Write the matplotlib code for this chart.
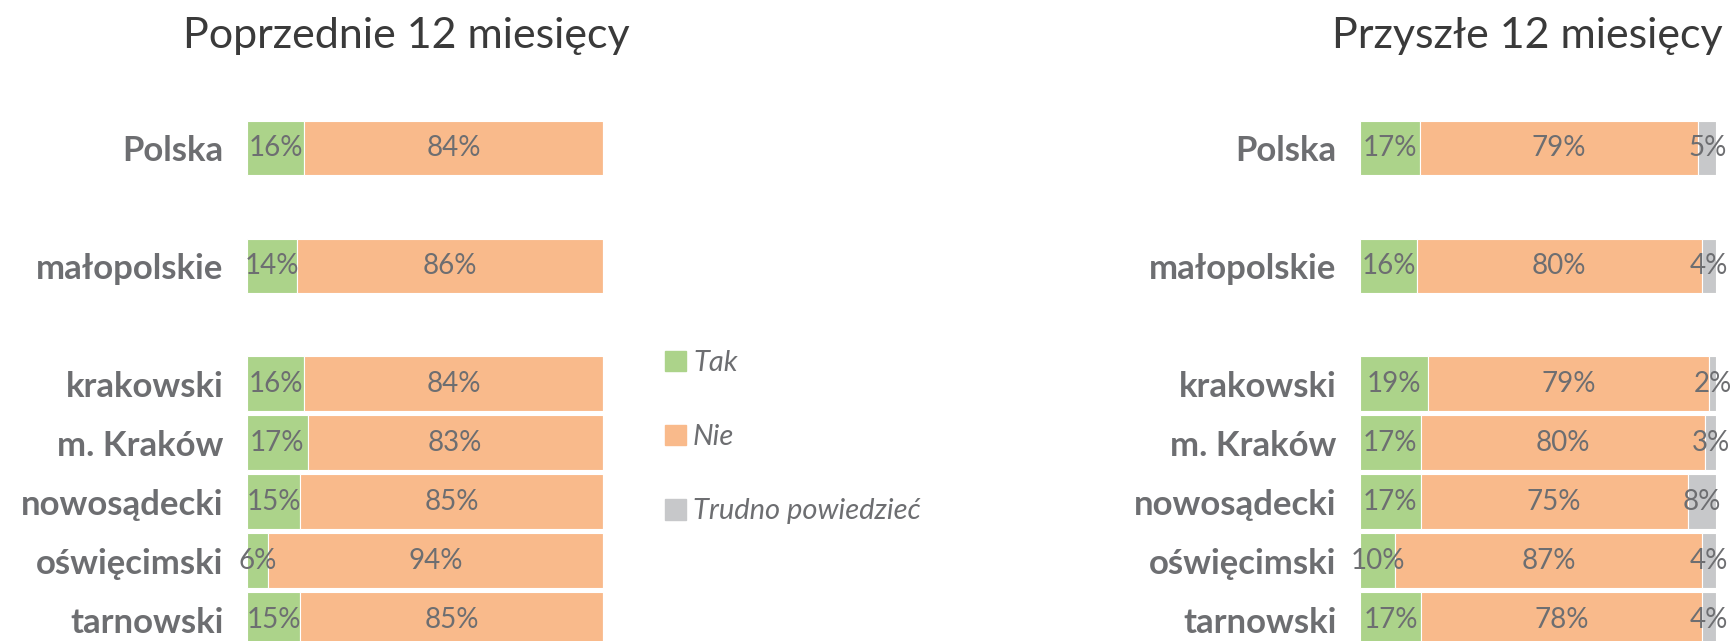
import numpy as np
import matplotlib.pyplot as plt
from matplotlib.patches import Patch

plt.rcParams['font.family'] = ['Lato', 'DejaVu Sans']

# Dane
regions = ["Polska", "małopolskie", "krakowski", "m. Kraków",
           "nowosądecki", "oświęcimski", "tarnowski"]
ypos = [0, 2, 4, 5, 6, 7, 8]

prev_tak = [16, 14, 16, 17, 15, 6, 15]
prev_nie = [84, 86, 84, 83, 85, 94, 85]
prev_trudno = [0, 0, 0, 0, 0, 0, 0]

next_tak = [17, 16, 19, 17, 17, 10, 17]
next_nie = [79, 80, 79, 80, 75, 87, 78]
next_trudno = [5, 4, 2, 3, 8, 4, 4]

series_names = ["Tak", "Nie", "Trudno powiedzieć"]
colors = ["#acd38a", "#f9ba8b", "#c7c8ca"]
txt_col = "#6d6e71"

W, H = 1731, 641
fig = plt.figure(figsize=(W / 100, H / 100), dpi=100)


def panel(ax, tak, nie, trudno, title, title_x):
    data = np.array([tak, nie, trudno], dtype=float)
    data = data / data.sum(axis=0) * 100  # 100% skumulowane
    left = np.zeros(len(regions))
    for k in range(3):
        vals = data[k]
        raw = [tak, nie, trudno][k]
        bars = ax.barh(ypos, vals, left=left, height=0.93, color=colors[k],
                       edgecolor="white", linewidth=0.8)
        for b, v, r in zip(bars, vals, raw):
            if r > 0:
                ax.text(b.get_x() + b.get_width() / 2, b.get_y() + b.get_height() / 2,
                        f"{r}%", ha="center", va="center", fontsize=20,
                        color=txt_col, clip_on=False)
        left += vals
    ax.set_xlim(0, 100)
    ax.set_ylim(8.36, -2.51)
    ax.set_yticks(ypos)
    ax.set_yticklabels(regions, fontsize=25, fontweight="bold", color=txt_col)
    ax.tick_params(axis="y", length=0, pad=17)
    ax.set_xticks([])
    for s in ax.spines.values():
        s.set_visible(False)
    fig.text(title_x / W, 1 - 36 / H, title, ha="center", va="center",
             fontsize=31, fontweight="normal", color="#3a3a3a")


ax1 = fig.add_axes([247 / W, 0, 356 / W, 1])
panel(ax1, prev_tak, prev_nie, prev_trudno, "Poprzednie 12 miesięcy", 406)

ax2 = fig.add_axes([1360 / W, 0, 356 / W, 1])
panel(ax2, next_tak, next_nie, next_trudno, "Przyszłe 12 miesięcy", 1527)

handles = [Patch(facecolor=c, edgecolor=c) for c in colors]
leg = fig.legend(handles, series_names, loc="upper left",
                 bbox_to_anchor=(639 / W, 1 - 324 / H), frameon=False,
                 handlelength=0.7, handleheight=0.7, handletextpad=0.25,
                 labelspacing=1.65, prop={"style": "italic", "size": 21})
for t in leg.get_texts():
    t.set_color(txt_col)

fig.savefig("out.png", dpi=100)
